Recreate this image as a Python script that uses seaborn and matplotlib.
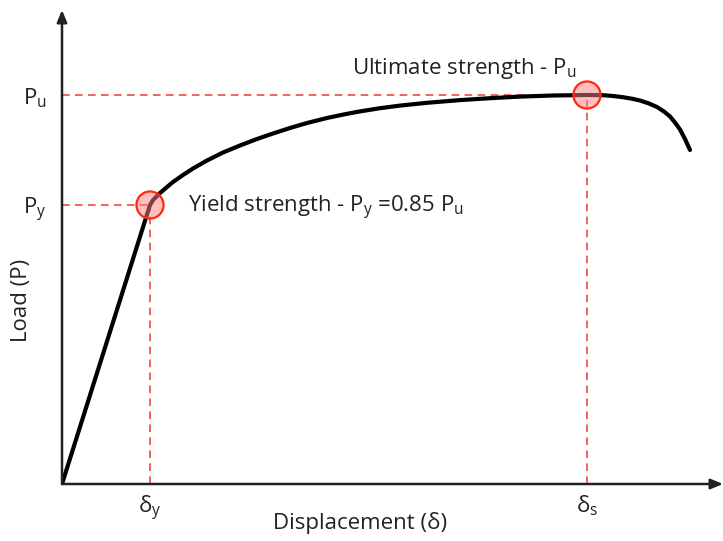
import matplotlib
matplotlib.use("Agg")
import matplotlib.pyplot as plt
import seaborn as sns
import pandas as pd

# Load–displacement curve (arbitrary units)
displacement = [0, 88, 91, 98, 105, 111, 121, 131, 145, 161, 178, 195, 211,
                228, 245, 265, 283, 298, 318, 338, 365, 398, 428, 458, 491,
                525, 541, 551, 561, 570, 578, 587, 595, 602, 608, 613, 618,
                623, 628]
load = [0, 279, 284, 291, 297, 302, 309, 315.5, 323.5, 331.5, 338.5, 345,
        350.5, 356, 361, 366, 369.8, 372.6, 375.8, 378.4, 381.2, 383.9, 385.8,
        387.4, 388.5, 389, 388.8, 388, 386.8, 385.3, 383.5, 380.5, 377,
        372.5, 367.5, 361.5, 354.5, 345, 334]

# Characteristic points
delta_y, P_y = 88, 279
delta_s, P_u = 525, 389
point_x = [delta_y, delta_s]
point_y = [P_y, P_u]

tick_x_labels = [r"$\mathregular{\delta_y}$", r"$\mathregular{\delta_s}$"]
tick_y_labels = [r"$\mathregular{P_y}$", r"$\mathregular{P_u}$"]

sns.set_theme(style="white")
plt.rcParams["font.family"] = ["Open Sans", "DejaVu Sans"]
plt.rcParams["mathtext.fontset"] = "custom"
plt.rcParams["mathtext.rm"] = "Open Sans"
plt.rcParams["mathtext.it"] = "Open Sans"

FS = 16
TXT = "#222222"

fig = plt.figure(figsize=(7.23, 5.41), dpi=100)
W, H = 723, 541
ax = fig.add_axes([62 / W, (H - 484) / H, (W - 62) / W, 484 / H])
ax.set_xlim(0, 661)
ax.set_ylim(0, 484)
for s in ax.spines.values():
    s.set_visible(False)

red = "#ee3b2e"
dash = (0, (5, 3.5))
# Guide lines to the axes
ax.plot([0, delta_y], [P_y, P_y], ls=dash, color=red, lw=1.1, zorder=1)
ax.plot([delta_y, delta_y], [0, P_y], ls=dash, color=red, lw=1.1, zorder=1)
ax.plot([0, delta_s], [P_u, P_u], ls=dash, color=red, lw=1.1, zorder=1)
ax.plot([delta_s, delta_s], [0, P_u], ls=dash, color=red, lw=1.1, zorder=1)

df = pd.DataFrame({"d": displacement, "P": load})
line_ax = sns.lineplot(data=df, x="d", y="P", color="black", lw=3.0,
                       sort=False, ax=ax, zorder=3)
line_ax.lines[-1].set_solid_joinstyle("round")

pts = pd.DataFrame({"d": point_x, "P": point_y})
sns.scatterplot(data=pts, x="d", y="P", s=380, color="#ff8080", alpha=0.5,
                edgecolor="none", ax=ax, zorder=4)
sns.scatterplot(data=pts, x="d", y="P", s=380, facecolor="none",
                edgecolor="#ff2a10", linewidth=1.6, ax=ax, zorder=5)

# Axes with arrow heads
arrow = dict(arrowstyle="-|>,head_length=0.6,head_width=0.25", color=TXT,
             lw=1.8, shrinkA=0, shrinkB=0)
ax.annotate("", xy=(661, 0), xytext=(0, 0), arrowprops=arrow,
            annotation_clip=False)
ax.annotate("", xy=(0, 474), xytext=(0, 0), arrowprops=arrow,
            annotation_clip=False)

ax.set_xticks(point_x)
ax.set_xticklabels(tick_x_labels, fontsize=FS, color=TXT)
ax.set_yticks(point_y)
ax.set_yticklabels(tick_y_labels, fontsize=FS, color=TXT)
ax.tick_params(axis="x", length=0, pad=7)
ax.tick_params(axis="y", length=0, pad=11)
ax.set_xlabel("Displacement (δ)", fontsize=FS, color=TXT, va="center")
ax.xaxis.set_label_coords((360 - 62) / 661, (484 - 523) / 484)
ax.set_ylabel("Load (P)", fontsize=FS, color=TXT, va="center")
ax.yaxis.set_label_coords((22 - 62) / 661, (484 - 300) / 484)

ax.text(290, 410, r"Ultimate strength - $\mathregular{P_u}$", fontsize=FS,
        color=TXT, va="baseline", ha="left")
ax.text(126, 276, r"Yield strength - $\mathregular{P_y}$ =0.85 $\mathregular{P_u}$",
        fontsize=FS, color=TXT, va="center", ha="left")

fig.savefig("out.png", dpi=100)
